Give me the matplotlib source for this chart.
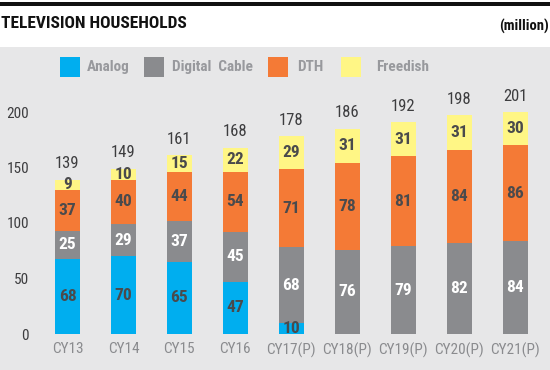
import matplotlib
matplotlib.use("Agg")
import matplotlib.pyplot as plt
from matplotlib.patches import Rectangle
import numpy as np

categories = ["CY13", "CY14", "CY15", "CY16", "CY17(P)", "CY18(P)", "CY19(P)", "CY20(P)", "CY21(P)"]
analog = [68, 70, 65, 47, 10, 0, 0, 0, 0]
digital_cable = [25, 29, 37, 45, 68, 76, 79, 82, 84]
dth = [37, 40, 44, 54, 71, 78, 81, 84, 86]
freedish = [9, 10, 15, 22, 29, 31, 31, 31, 30]
totals = [139, 149, 161, 168, 178, 186, 192, 198, 201]
series_names = ["Analog", "Digital  Cable", "DTH", "Freedish"]
yticks = [0, 50, 100, 150, 200]

colors = ["#00aeef", "#8a8b8e", "#f47a36", "#fff685"]
label_colors = ["#4a4a4c", "#ffffff", "#4a4a4c", "#4a4a4c"]
FONT = ["Roboto Condensed", "Liberation Sans Narrow", "Liberation Sans", "DejaVu Sans"]
W, H = 550, 370
fig = plt.figure(figsize=(W / 100, H / 100), dpi=100)
fig.patch.set_facecolor("white")

# panel background and top rule
fig.patches.append(Rectangle((0, 0), 1, (H - 47) / H, transform=fig.transFigure,
                             facecolor="#e7e7e8", edgecolor="none", zorder=-2))
fig.patches.append(Rectangle((0, (H - 6) / H), 1, 3.5 / H, transform=fig.transFigure,
                             facecolor="#111111", edgecolor="none", zorder=-2))

fig.text(1 / W, (H - 23) / H, "TELEVISION HOUSEHOLDS", fontsize=12.5, fontweight="bold",
         family=FONT, color="#111111", va="center", ha="left")
fig.text(549 / W, (H - 26) / H, "(million)", fontsize=10.5, fontweight="bold",
         family=FONT, color="#111111", va="center", ha="right")

# axes placement
ax_left_px, ax_right_px = 40, 545
y0_px = 334
px_per_unit = 1.11
ymax = 215
ax = fig.add_axes([ax_left_px / W, (H - y0_px) / H, (ax_right_px - ax_left_px) / W,
                   ymax * px_per_unit / H])
ax.set_facecolor("none")
ax.set_zorder(1)
spacing = 55.94
x = np.arange(len(categories))
ax.set_xlim((ax_left_px - 67.5) / spacing, (ax_right_px - 67.5) / spacing)
ax.set_ylim(0, ymax)

bw = 25 / spacing
bottom = np.zeros(len(categories))
series = [analog, digital_cable, dth, freedish]
for vals, c, lc in zip(series, colors, label_colors):
    vals = np.array(vals, dtype=float)
    ax.bar(x, vals, bw, bottom=bottom, color=c, edgecolor="none", zorder=2)
    for xi, v, b in zip(x, vals, bottom):
        if v > 0:
            ax.text(xi, b + v / 2, f"{int(v)}", ha="center", va="center",
                    fontsize=12.5, fontweight="bold", family=FONT, color=lc, zorder=3)
    bottom += vals

for xi, t, b in zip(x, totals, bottom):
    ax.annotate(f"{t}", (xi, b), xytext=(0, 6), textcoords="offset points",
                ha="center", va="bottom", fontsize=12, family=FONT,
                color="#3d3d3f", zorder=3)

for s in ax.spines.values():
    s.set_visible(False)
ax.set_yticks(yticks)
ax.set_yticklabels([str(v) for v in yticks])
ax.set_xticks(x)
ax.set_xticklabels(categories)
ax.tick_params(axis="both", length=0)
ax.tick_params(axis="y", pad=8, labelsize=11, labelcolor="#3d3d3f")
ax.tick_params(axis="x", pad=6, labelsize=11, labelcolor="#8a8b8e")
for lab in ax.get_xticklabels() + ax.get_yticklabels():
    lab.set_family(FONT)

# legend
leg_sq_x = [60, 144, 268, 341]
leg_tx_x = [87, 172, 297, 376]
for name, c, sx, tx in zip(series_names, colors, leg_sq_x, leg_tx_x):
    fig.patches.append(Rectangle((sx / W, (H - 77) / H), 20 / W, 20 / H,
                                 transform=fig.transFigure, facecolor=c,
                                 edgecolor="none", zorder=-1))
    fig.text(tx / W, (H - 67) / H, name, fontsize=11, fontweight="bold", family=FONT,
             color="#98999d", va="center", ha="left")

fig.savefig("out.png", dpi=100)
